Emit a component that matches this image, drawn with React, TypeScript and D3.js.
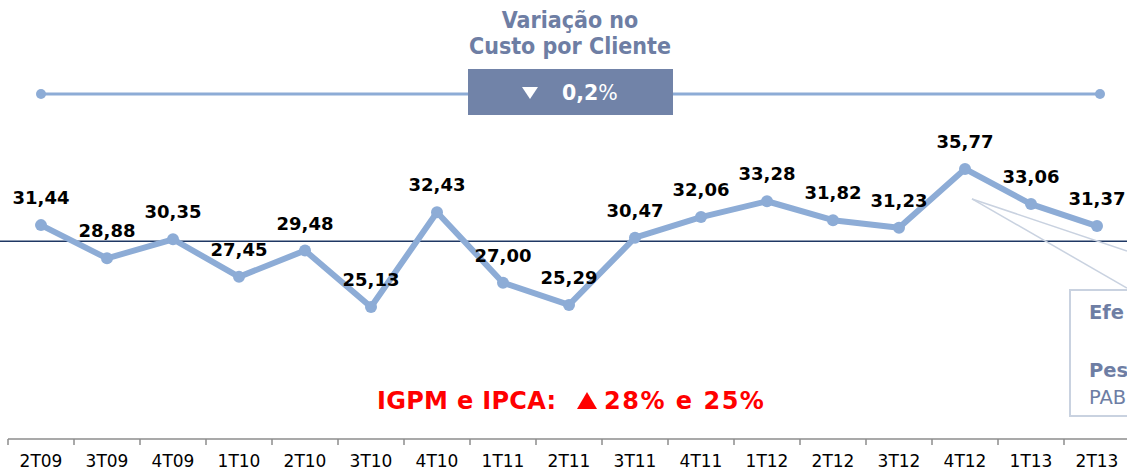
import React from "react";
import * as d3 from "d3";

const categories = ["2T09","3T09","4T09","1T10","2T10","3T10","4T10","1T11","2T11","3T11","4T11","1T12","2T12","3T12","4T12","1T13","2T13"];
const values = [31.44,28.88,30.35,27.45,29.48,25.13,32.43,27.00,25.29,30.47,32.06,33.28,31.82,31.23,35.77,33.06,31.37];
const referenceValue = 30.2;
const titleLines = ["Variação no", "Custo por Cliente"];
const variationText = "0,2";
const inflationLabel = "IGPM e IPCA:";
const inflationValues = "28% e 25%";
const calloutLines = ["Efe", "Pes", "PAB"];

const W = 1127;
const H = 472;
const LINE_COLOR = "#8DACD6";
const SLATE = "#7183A8";
const TEXT_SLATE = "#6E7EA4";

const fmt = (v: number) => v.toFixed(2).replace(".", ",");

export default function App() {
  const x = d3.scaleBand<string>().domain(categories).range([8, 8 + 66 * categories.length]).padding(0);
  const y = d3.scaleLinear().domain([20, 40]).range([373.5, 114.1]);
  const cx = (c: string) => (x(c) as number) + x.bandwidth() / 2;

  const line = d3.line<number>()
    .x((_, i) => cx(categories[i]))
    .y((d) => y(d));

  const axisY = 439;
  const xFirst = cx(categories[0]);
  const xLast = cx(categories[categories.length - 1]);
  const peakIdx = values.indexOf(d3.max(values) as number);
  const leadX = cx(categories[peakIdx]) + 7;
  const leadY = y(values[peakIdx]) + 30;

  return (
    <svg width={W} height={H} style={{ position: "absolute", left: 0, top: 0, background: "#fff" }}>
      {/* Title */}
      <g fontFamily="'DejaVu Sans Condensed', 'DejaVu Sans', sans-serif" fontWeight="bold" fill={TEXT_SLATE} fontSize={23} textAnchor="middle">
        <text x={570} y={28}>{titleLines[0]}</text>
        <text x={570} y={54}>{titleLines[1]}</text>
      </g>

      {/* Variation bar */}
      <line x1={xFirst} x2={xLast + 3} y1={94} y2={94} stroke={LINE_COLOR} strokeWidth={3} />
      <circle cx={xFirst} cy={94} r={5} fill={LINE_COLOR} />
      <circle cx={xLast + 3} cy={94} r={5} fill={LINE_COLOR} />
      <rect x={468} y={69} width={205} height={46} fill={SLATE} />
      <path d="M522,87 L538,87 L530,99 Z" fill="#fff" />
      <text x={562} y={100} fill="#fff" fontFamily="'DejaVu Sans', sans-serif" fontSize={20.5}>
        <tspan fontWeight="bold">{variationText}</tspan>
        <tspan>%</tspan>
      </text>

      {/* Reference line */}
      <line x1={0} x2={W} y1={y(referenceValue)} y2={y(referenceValue)} stroke="#1F3864" strokeWidth={1.5} />

      {/* Callout leader lines */}
      <line x1={leadX} y1={leadY} x2={W} y2={251} stroke="#C9D2E0" strokeWidth={1.5} />
      <line x1={leadX} y1={leadY} x2={W} y2={288} stroke="#C9D2E0" strokeWidth={1.5} />

      {/* Data line */}
      <path d={line(values) as string} fill="none" stroke={LINE_COLOR} strokeWidth={6} strokeLinejoin="round" />
      {values.map((v, i) => (
        <circle key={i} cx={cx(categories[i])} cy={y(v)} r={6} fill={LINE_COLOR} />
      ))}
      <g fontFamily="'DejaVu Sans', sans-serif" fontWeight="bold" fontSize={18} fill="#000" textAnchor="middle">
        {values.map((v, i) => (
          <text key={i} x={cx(categories[i])} y={y(v) - 21}>{fmt(v)}</text>
        ))}
      </g>

      {/* Callout box */}
      <rect x={1070} y={290} width={120} height={126} fill="#fff" stroke="#C9D2E0" strokeWidth={2} />
      <g fontFamily="'DejaVu Sans', sans-serif" fontSize={19.5} fill={TEXT_SLATE}>
        <text x={1089} y={319} fontWeight="bold">{calloutLines[0]}</text>
        <text x={1089} y={377} fontWeight="bold">{calloutLines[1]}</text>
        <text x={1089} y={404}>{calloutLines[2]}</text>
      </g>

      {/* Inflation text */}
      <text x={377} y={409} fill="#FF0000" fontFamily="'DejaVu Sans', sans-serif" fontWeight="bold" fontSize={24} letterSpacing={0.3}>
        {inflationLabel}
      </text>
      <path d="M577,409 L597,409 L587,392 Z" fill="#FF0000" />
      <text x={604} y={409} fill="#FF0000" fontFamily="'DejaVu Sans', sans-serif" fontWeight="bold" fontSize={24} letterSpacing={1.5}>
        {inflationValues}
      </text>

      {/* X axis */}
      <line x1={x(categories[0]) as number} x2={(x(categories[0]) as number) + 66 * categories.length} y1={axisY} y2={axisY} stroke="#8C8C8C" strokeWidth={1.5} />
      {categories.map((c) => (
        <line key={c} x1={x(c) as number} x2={x(c) as number} y1={axisY} y2={axisY + 6} stroke="#8C8C8C" strokeWidth={1.5} />
      ))}
      <g fontFamily="'DejaVu Sans', sans-serif" fontSize={17} fill="#000" textAnchor="middle">
        {categories.map((c) => (
          <text key={c} x={cx(c)} y={467}>{c}</text>
        ))}
      </g>
    </svg>
  );
}
